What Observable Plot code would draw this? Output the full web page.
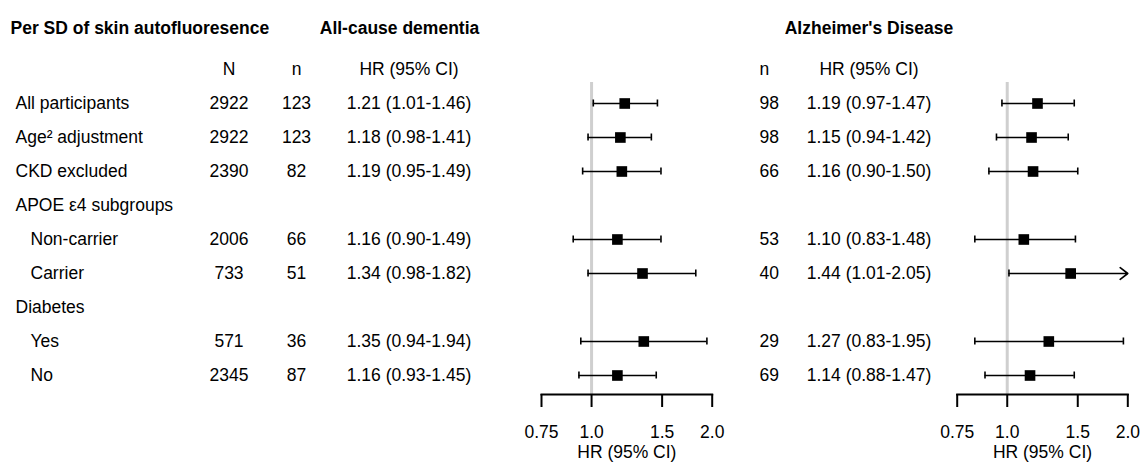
<!DOCTYPE html>
<html>
<head>
<meta charset="utf-8">
<script src="https://cdn.jsdelivr.net/npm/d3@7"></script>
<script src="https://cdn.jsdelivr.net/npm/@observablehq/plot@0.6"></script>
<style>
  html, body { margin: 0; padding: 0; background: #ffffff; }
  #chart { position: relative; width: 1141px; height: 462px; overflow: hidden; }
  #chart svg { position: absolute; left: 0; top: 0; }
</style>
</head>
<body>
<div id="chart"></div>
<script>
// ---------------- data ----------------
const titles = ["Per SD of skin autofluoresence", "All-cause dementia", "Alzheimer's Disease"];
const headerN = "N";
const headerCount = "n";
const headerHR = "HR (95% CI)";
const axisLabel = "HR (95% CI)";

const rows = ["All participants", "Age² adjustment", "CKD excluded", "APOE ε4 subgroups",
              "Non-carrier", "Carrier", "Diabetes", "Yes", "No"];
const isSubgroup = [false, false, false, false, true, true, false, true, true];

const totalN = [2922, 2922, 2390, null, 2006, 733, null, 571, 2345];

const demCases = [123, 123, 82, null, 66, 51, null, 36, 87];
const demHR    = [1.21, 1.18, 1.19, null, 1.16, 1.34, null, 1.35, 1.16];
const demLow   = [1.01, 0.98, 0.95, null, 0.90, 0.98, null, 0.94, 0.93];
const demHigh  = [1.46, 1.41, 1.49, null, 1.49, 1.82, null, 1.94, 1.45];

const adCases = [98, 98, 66, null, 53, 40, null, 29, 69];
const adHR    = [1.19, 1.15, 1.16, null, 1.10, 1.44, null, 1.27, 1.14];
const adLow   = [0.97, 0.94, 0.90, null, 0.83, 1.01, null, 0.83, 0.88];
const adHigh  = [1.47, 1.42, 1.50, null, 1.48, 2.05, null, 1.95, 1.47];

const xTicks = [0.75, 1.0, 1.5, 2.0];
const xTickLabels = ["0.75", "1.0", "1.5", "2.0"];
const xDomain = [0.75, 2.0];
const refValue = 1;

// ---------------- layout (not data) ----------------
const W = 1141, H = 462;
const FONT = "'Liberation Sans', Arial, Helvetica, sans-serif";
const FS = 17.5;
const yDomain = ["header", ...rows];
const yRange = [66.3, 378.3];
const col = {title: 10, label: 15, labelIndent: 30, demTitle: 399, N: 228.5, n: 296, HR: 408.5,
             adTitle: 868.5, adN: 759, adHR: 868.5};

const fmt2 = v => v.toFixed(2);
const hrText = (h, l, u) => `${fmt2(h)} (${fmt2(l)}-${fmt2(u)})`;

const table = rows.map((r, i) => ({
  key: r,
  label: r,
  sub: isSubgroup[i],
  N: totalN[i] == null ? "" : String(totalN[i]),
  n: demCases[i] == null ? "" : String(demCases[i]),
  hr: demHR[i] == null ? "" : hrText(demHR[i], demLow[i], demHigh[i]),
  n2: adCases[i] == null ? "" : String(adCases[i]),
  hr2: adHR[i] == null ? "" : hrText(adHR[i], adLow[i], adHigh[i])
}));

const baseStyle = {fontFamily: FONT, fontSize: FS + "px", color: "black", background: "transparent", overflow: "visible"};
const yScale = {type: "point", domain: yDomain, range: yRange, padding: 0, axis: null};
const chart = document.getElementById("chart");

// ---------------- table text ----------------
const textOpts = {fontSize: FS, fill: "black"};
const titleOpts = {frameAnchor: "top", dy: 27.5, lineAnchor: "middle", fontWeight: "bold", ...textOpts};
const tablePlot = Plot.plot({
  width: W, height: H, margin: 0,
  x: {type: "identity", axis: null},
  y: yScale,
  style: baseStyle,
  marks: [
    // titles
    Plot.text([titles[0]], {x: () => col.title, textAnchor: "start", ...titleOpts}),
    Plot.text([titles[1]], {x: () => col.demTitle, textAnchor: "middle", ...titleOpts}),
    Plot.text([titles[2]], {x: () => col.adTitle, textAnchor: "middle", ...titleOpts}),
    // header row
    Plot.text([headerN], {x: () => col.N, y: () => "header", textAnchor: "middle", ...textOpts}),
    Plot.text([headerCount], {x: () => col.n, y: () => "header", textAnchor: "middle", ...textOpts}),
    Plot.text([headerHR], {x: () => col.HR, y: () => "header", textAnchor: "middle", ...textOpts}),
    Plot.text([headerCount], {x: () => col.adN, y: () => "header", textAnchor: "start", ...textOpts}),
    Plot.text([headerHR], {x: () => col.adHR, y: () => "header", textAnchor: "middle", ...textOpts}),
    // rows
    Plot.text(table, {x: d => d.sub ? col.labelIndent : col.label, y: "key", text: "label", textAnchor: "start", ...textOpts}),
    Plot.text(table, {x: () => col.N, y: "key", text: "N", textAnchor: "middle", ...textOpts}),
    Plot.text(table, {x: () => col.n, y: "key", text: "n", textAnchor: "middle", ...textOpts}),
    Plot.text(table, {x: () => col.HR, y: "key", text: "hr", textAnchor: "middle", ...textOpts}),
    Plot.text(table, {x: () => col.adN, y: "key", text: "n2", textAnchor: "start", ...textOpts}),
    Plot.text(table, {x: () => col.adHR, y: "key", text: "hr2", textAnchor: "middle", ...textOpts})
  ]
});
chart.appendChild(tablePlot);

// ---------------- forest panels ----------------
function forest(hr, low, high, marginLeft, marginRight) {
  const d = rows.map((r, i) => ({key: r, hr: hr[i], lo: low[i], hi: high[i]})).filter(e => e.hr != null);
  const inside = d.filter(e => e.hi <= xDomain[1]);
  const outside = d.filter(e => e.hi > xDomain[1]);
  return Plot.plot({
    width: W, height: H,
    marginLeft, marginRight, marginTop: 82, marginBottom: 68,
    x: {type: "log", domain: xDomain},
    y: yScale,
    style: baseStyle,
    marks: [
      Plot.ruleX([refValue], {stroke: "#cfcfcf", strokeWidth: 3}),
      Plot.ruleY(inside, {y: "key", x1: "lo", x2: "hi", stroke: "black", strokeWidth: 1.6}),
      Plot.arrow(outside, {y1: "key", y2: "key", x1: "lo", x2: () => xDomain[1], stroke: "black", strokeWidth: 1.6, headLength: 9, headAngle: 75}),
      Plot.ruleX(d, {x: "lo", y1: "key", y2: "key", insetTop: -3.5, insetBottom: -3.5, stroke: "black", strokeWidth: 1.6}),
      Plot.ruleX(inside, {x: "hi", y1: "key", y2: "key", insetTop: -3.5, insetBottom: -3.5, stroke: "black", strokeWidth: 1.6}),
      Plot.dot(d, {x: "hr", y: "key", symbol: "square", r: 6, fill: "black"}),
      Plot.frame({anchor: "bottom", stroke: "black", strokeWidth: 2}),
      Plot.axisX({ticks: xTicks, tickFormat: v => xTickLabels[xTicks.indexOf(v)], tickSize: 13, tickPadding: 18,
                  stroke: "black", strokeWidth: 2, fontSize: FS, fill: "black", label: null}),
      Plot.text([axisLabel], {frameAnchor: "bottom", dy: 58, lineAnchor: "middle", fontSize: FS, fill: "black"})
    ]
  });
}

chart.appendChild(forest(demHR, demLow, demHigh, 541, W - 711.7));
chart.appendChild(forest(adHR, adLow, adHigh, 956.7, W - 1127.3));
</script>
</body>
</html>
